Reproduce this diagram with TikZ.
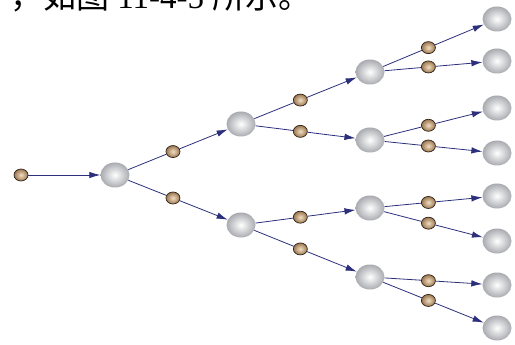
\documentclass[tikz,border=0pt]{standalone}
\usepackage{fontspec}
\setmainfont{Liberation Serif}
\newfontfamily\cjk{Noto Sans CJK SC}
\usepackage{tikz}
\usetikzlibrary{arrows.meta,calc,shapes.geometric}
\definecolor{bgnavy}    {HTML}{2C2F7C}
\definecolor{bgsilver}  {HTML}{A9ABB0}
\definecolor{bgtan}     {HTML}{F0DFC2}
\definecolor{bgbrown}   {HTML}{9C7650}
\definecolor{bgrim}     {HTML}{2E2418}
\tikzset{
  bgsphere/.style={ellipse, minimum width=29pt, minimum height=25pt, inner sep=0pt,
                   inner color=white, outer color=bgsilver},
  bgbead/.style={ellipse, draw=bgrim, line width=0.7pt, minimum width=14pt,
                 minimum height=12pt, inner sep=0pt,
                 inner color=bgtan, outer color=bgbrown},
  bgline/.style={draw=bgnavy, line width=0.8pt},
  bgarrow/.style={bgline, -{Latex[length=11pt,width=6.5pt]}},
  bgtext/.style={font=\fontsize{33}{38}\selectfont, inner sep=0pt},
}

\begin{document}
\begin{tikzpicture}[x=1pt,y=-1pt]
  \useasboundingbox (0,0) rectangle (515,345);
  \clip (0,0) rectangle (515,345);
  % caption line, cut off at the top
  \node[bgtext, anchor=base west] (cap) at (10,9)
       {{\cjk ，如图} 11-4-5 {\cjk 所示。}};
  % spheres of the tree, level by level
  \node[bgbead] (start) at (21,175) {};
  \node[bgsphere] (s) at (115,175) {};
  \foreach \n/\y in {a/124, b/225}
    { \node[bgsphere] (s\n) at (241,\y) {}; }
  \foreach \n/\y in {aa/72, ab/140, ba/208, bb/277}
    { \node[bgsphere] (s\n) at (370,\y) {}; }
  \foreach \n/\y in {aaa/19, aab/61, aba/108, abb/153,
                     baa/196, bab/241, bba/285, bbb/328}
    { \node[bgsphere] (s\n) at (497,\y) {}; }
  % links: parent -- bead -> child
  \draw[bgarrow] (start) -- (s);
  \foreach \p/\c in {/a, /b, a/aa, a/ab, b/ba, b/bb,
                     aa/aaa, aa/aab, ab/aba, ab/abb,
                     ba/baa, ba/bab, bb/bba, bb/bbb}
  {
    \node[bgbead] (k\c) at ($(s\p)!0.46!(s\c)$) {};
    \draw[bgline] (s\p) -- (k\c);
    \draw[bgarrow] (k\c) -- (s\c);
  }
\end{tikzpicture}
\end{document}
